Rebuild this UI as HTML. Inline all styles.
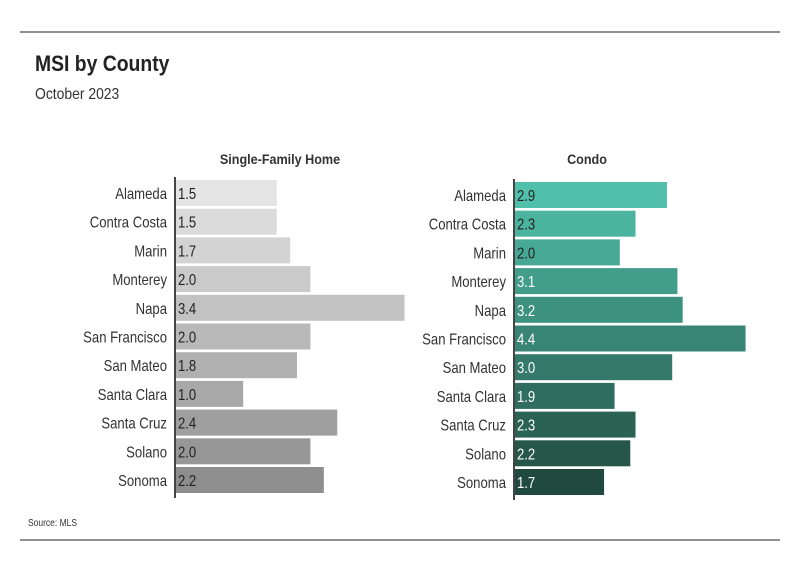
<!DOCTYPE html>
<html><head><meta charset="utf-8"><style>
body{margin:0;width:801px;height:575px;background:#fff;overflow:hidden;font-family:"Liberation Sans",sans-serif}
svg text{font-family:"Liberation Sans",sans-serif}
</style></head><body>
<svg width="801" height="575">
<line x1="20" y1="32" x2="780" y2="32" stroke="#222" stroke-width="1"/>
<line x1="20" y1="540" x2="780" y2="540" stroke="#222" stroke-width="1"/>
<text transform="translate(35,71) scale(0.88,1)" font-size="22" font-weight="bold" fill="#222">MSI by County</text>
<text transform="translate(35,99) scale(0.87,1)" font-size="16" fill="#333">October 2023</text>
<text transform="translate(28,526) scale(0.85,1)" font-size="10" fill="#333">Source: MLS</text>
<text transform="translate(280,164) scale(0.9,1)" font-size="14" font-weight="bold" fill="#333" text-anchor="middle">Single-Family Home</text>
<text transform="translate(587,164) scale(0.9,1)" font-size="14" font-weight="bold" fill="#333" text-anchor="middle">Condo</text>
<g id="g"></g>
</svg>
<script>
const counties=["Alameda","Contra Costa","Marin","Monterey","Napa","San Francisco","San Mateo","Santa Clara","Santa Cruz","Solano","Sonoma"];
const sfhValues=[1.5,1.5,1.7,2.0,3.4,2.0,1.8,1.0,2.4,2.0,2.2];
const condoValues=[2.9,2.3,2.0,3.1,3.2,4.4,3.0,1.9,2.3,2.2,1.7];
const g=document.getElementById('g');
const NS='http://www.w3.org/2000/svg';
function mk(t,a){const e=document.createElementNS(NS,t);for(const k in a)e.setAttribute(k,a[k]);g.appendChild(e);return e;}
function lerp(a,b,t){return a.map((v,i)=>Math.round(v+(b[i]-v)*t));}
function panel(vals,x0,y0,step,scale,c1,c2,name,darkText){
  const ax=mk('line',{x1:x0,y1:y0-16,x2:x0,y2:y0+step*10+18,stroke:'#444','stroke-width':2});
  
  
  vals.forEach((v,i)=>{
    const cy=y0+i*step;const c=lerp(c1,c2,i/10);
    const r=mk('rect',{x:x0+1,y:cy-13,width:v*scale,height:26,fill:`rgb(${c})`});
    
    
    const l=mk('text',{transform:`translate(${x0-8},${cy+6}) scale(0.82,1)`,'font-size':16,'text-anchor':'end',fill:'#333'});
    l.textContent=counties[i];
    
    
    const t=mk('text',{transform:`translate(${x0+3},${cy+6}) scale(0.82,1)`,'font-size':16,fill:(darkText||i<3)?'#222':'#fff'});
    t.textContent=v.toFixed(1);
    
    
  });
}
panel(sfhValues,175,193,28.7,67.2,[228,228,228],[142,142,142],'sfh',true);
panel(condoValues,514,195,28.7,52.4,[80,192,170],[33,74,63],'condo',false);
</script>
</body></html>
